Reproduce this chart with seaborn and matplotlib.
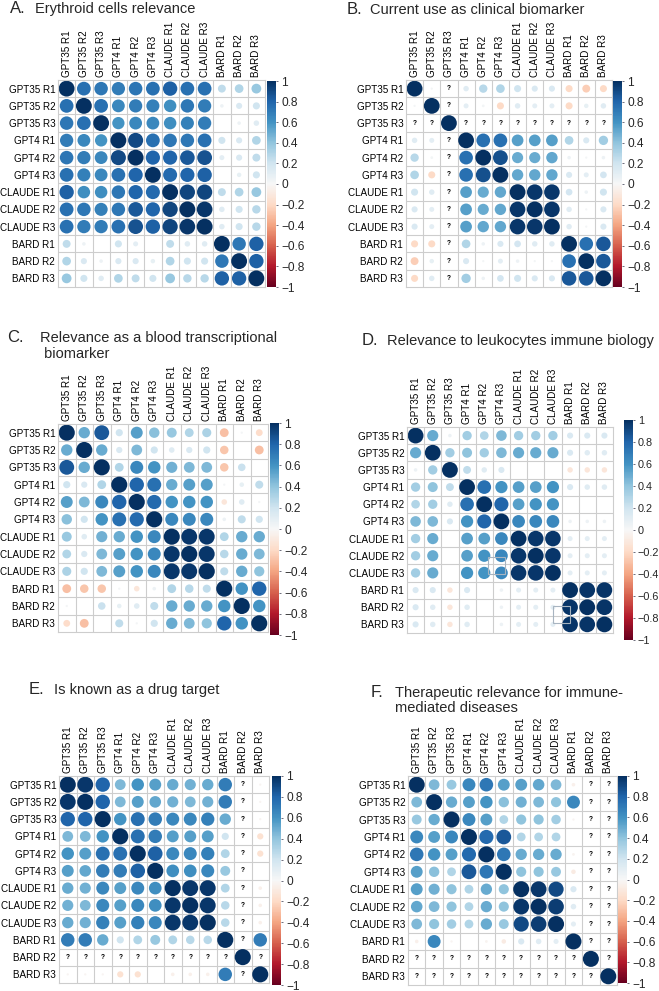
import numpy as np
import pandas as pd
import matplotlib
matplotlib.use('Agg')
import matplotlib.pyplot as plt
from matplotlib.patches import Rectangle
import seaborn as sns

labels = ['GPT35 R1', 'GPT35 R2', 'GPT35 R3', 'GPT4 R1', 'GPT4 R2', 'GPT4 R3',
          'CLAUDE R1', 'CLAUDE R2', 'CLAUDE R3', 'BARD R1', 'BARD R2', 'BARD R3']

# correlation values below the diagonal, row by row (row 2 .. row 12)
# None = correlation not computable, drawn as "?"
erythroid = [
    [0.75],
    [0.72, 0.75],
    [0.70, 0.65, 0.60],
    [0.73, 0.70, 0.65, 0.90],
    [0.75, 0.68, 0.65, 0.75, 0.80],
    [0.82, 0.62, 0.62, 0.72, 0.80, 0.78],
    [0.75, 0.72, 0.68, 0.72, 0.85, 0.80, 0.92],
    [0.75, 0.70, 0.70, 0.75, 0.87, 0.82, 0.92, 0.97],
    [0.25, 0.05, 0.00, 0.20, 0.10, 0.00, 0.25, 0.12, 0.12],
    [0.30, 0.15, 0.05, 0.15, 0.15, 0.08, 0.30, 0.20, 0.20, 0.72],
    [0.38, 0.20, 0.12, 0.30, 0.25, 0.20, 0.38, 0.28, 0.28, 0.82, 0.82],
]

clinical = [
    [0.02],
    [None, None],
    [0.12, 0.10, None],
    [0.28, 0.03, None, 0.75],
    [0.30, -0.20, None, 0.75, 0.88],
    [0.20, 0.12, None, 0.55, 0.50, 0.52],
    [0.15, 0.10, None, 0.55, 0.50, 0.52, 0.97],
    [0.15, 0.10, None, 0.55, 0.52, 0.52, 0.97, 0.97],
    [-0.20, -0.20, None, 0.30, 0.05, 0.15, 0.18, 0.12, 0.12],
    [-0.25, 0.08, None, 0.15, 0.02, 0.10, 0.05, 0.02, 0.02, 0.75],
    [-0.20, 0.12, None, 0.35, 0.05, 0.18, 0.20, 0.15, 0.15, 0.85, 0.85],
]

blood = [
    [0.50],
    [0.85, 0.50],
    [0.20, 0.15, 0.30],
    [0.55, 0.45, 0.65, 0.80],
    [0.42, 0.20, 0.60, 0.75, 0.78],
    [0.38, 0.12, 0.48, 0.50, 0.60, 0.65],
    [0.30, 0.15, 0.45, 0.55, 0.60, 0.65, 0.97],
    [0.32, 0.20, 0.45, 0.55, 0.60, 0.65, 0.97, 0.97],
    [-0.30, -0.28, -0.28, 0.02, -0.12, 0.05, 0.30, 0.28, 0.25],
    [0.02, 0.00, 0.22, 0.08, 0.12, 0.25, 0.50, 0.50, 0.50, 0.60],
    [-0.18, -0.30, 0.00, 0.25, 0.02, 0.20, 0.50, 0.45, 0.40, 0.80, 0.60],
]

leukocytes = [
    [0.50],
    [0.05, 0.35],
    [0.35, 0.40, 0.25],
    [0.30, 0.35, 0.12, 0.75],
    [0.45, 0.45, 0.15, 0.60, 0.80],
    [0.35, 0.50, 0.00, 0.55, 0.55, 0.65],
    [0.35, 0.50, 0.00, 0.55, 0.60, 0.65, 0.97],
    [0.35, 0.50, 0.00, 0.60, 0.60, 0.65, 0.97, 0.97],
    [0.15, 0.15, -0.12, 0.15, 0.00, 0.05, 0.10, 0.10, 0.10],
    [0.15, 0.12, -0.12, 0.12, 0.00, 0.05, 0.10, 0.10, 0.10, 0.98],
    [0.15, 0.12, -0.12, 0.12, 0.00, 0.05, 0.10, 0.10, 0.10, 0.98, 0.98],
]

drug_target = [
    [0.97],
    [0.80, 0.80],
    [0.45, 0.45, 0.60],
    [0.60, 0.55, 0.75, 0.75],
    [0.55, 0.52, 0.70, 0.70, 0.82],
    [0.50, 0.48, 0.65, 0.55, 0.65, 0.62],
    [0.48, 0.45, 0.65, 0.55, 0.65, 0.62, 0.97],
    [0.50, 0.48, 0.68, 0.55, 0.68, 0.65, 0.97, 0.97],
    [0.70, 0.70, 0.50, 0.20, 0.30, 0.38, 0.30, 0.28, 0.28],
    [None] * 10,
    [-0.02, -0.02, -0.02, -0.15, -0.15, 0.00, -0.05, -0.05, -0.05, 0.70, None],
]

therapeutic = [
    [0.45],
    [0.38, 0.50],
    [0.65, 0.55, 0.65],
    [0.72, 0.60, 0.55, 0.78],
    [0.55, 0.42, 0.30, 0.85, 0.72],
    [0.55, 0.48, 0.40, 0.30, 0.50, 0.40],
    [0.52, 0.45, 0.40, 0.30, 0.50, 0.40, 0.97],
    [0.45, 0.40, 0.35, 0.30, 0.50, 0.38, 0.90, 0.95],
    [-0.05, 0.65, -0.02, 0.00, -0.03, -0.08, 0.15, 0.12, 0.10],
    [None] * 10,
    [None] * 11,
]

sns.set_theme(style='white')
plt.rcParams['font.family'] = ['Liberation Sans', 'DejaVu Sans']

W, H = 659, 991
fig = plt.figure(figsize=(W / 100, H / 100), dpi=100)
GRID = '#CDCDCD'


def px_rect(l, t, r, b):
    return [l / W, 1 - b / H, (r - l) / W, (b - t) / H]


def full_matrix(lower):
    n = len(labels)
    m = np.eye(n)
    for i, row in enumerate(lower, start=1):
        for j, v in enumerate(row):
            m[i, j] = m[j, i] = np.nan if v is None else v
    return m


def tick_text(t):
    if abs(t) < 1e-9:
        return '0'
    s = ('%g' % abs(t))
    return ('\u2212' + s) if t < 0 else s


def draw_panel(lower, grid_box, cbar_box, cbar_pad=2.2, cbar_fs=8.6):
    mat = full_matrix(lower)
    n = len(labels)
    ax = fig.add_axes(px_rect(*grid_box))
    rows, cols = np.indices(mat.shape)
    df = pd.DataFrame({'col': cols.ravel(), 'row': rows.ravel(), 'r': mat.ravel()})
    df['size'] = df['r'].abs()
    known = df.dropna()
    cell_pt = (grid_box[2] - grid_box[0]) / n * 72 / 100
    sns.scatterplot(data=known, x='col', y='row', hue='r', size='size',
                    palette='RdBu', hue_norm=(-1, 1),
                    sizes=(0, (0.92 * cell_pt) ** 2), size_norm=(0, 1),
                    edgecolor='none', linewidth=0, legend=False, ax=ax)
    # not computable correlations
    for _, rr in df[df['r'].isna()].iterrows():
        ax.text(rr['col'], rr['row'], '?', ha='center', va='center',
                fontsize=4.8, fontweight='bold', color='black')

    for k in range(1, n):
        ax.axhline(k - 0.5, color=GRID, lw=0.8, zorder=0)
        ax.axvline(k - 0.5, color=GRID, lw=0.8, zorder=0)
    ax.set_xlim(-0.5, n - 0.5)
    ax.set_ylim(n - 0.5, -0.5)
    ax.set_xlabel('')
    ax.set_ylabel('')
    ax.set_xticks(range(n))
    ax.set_yticks(range(n))
    ax.set_xticklabels(labels, rotation=90, fontsize=7.1)
    ax.set_yticklabels(labels, fontsize=7.1)
    ax.xaxis.tick_top()
    ax.tick_params(length=0, pad=2, colors='black')
    for sp in ax.spines.values():
        sp.set_color(GRID)
        sp.set_linewidth(0.8)

    cax = fig.add_axes(px_rect(*cbar_box))
    sm = plt.cm.ScalarMappable(norm=plt.Normalize(-1, 1), cmap='RdBu')
    cb = fig.colorbar(sm, cax=cax)
    ticks = np.round(np.arange(-1, 1.01, 0.2), 1)
    cb.set_ticks(ticks)
    cb.set_ticklabels([tick_text(t) for t in ticks])
    cax.tick_params(length=1.6, width=0.6, direction='out', color='#555566',
                    labelsize=cbar_fs, pad=cbar_pad)
    cb.outline.set_visible(False)
    return ax


def title(letter, lx, tx, lines, y0, dy=16):
    fig.text(lx / W, 1 - y0 / H, letter, fontsize=12, va='baseline', ha='left')
    for i, line in enumerate(lines):
        fig.text(tx / W, 1 - (y0 + i * dy) / H, line, fontsize=10.5,
                 va='baseline', ha='left')


draw_panel(erythroid, (58, 80, 265, 287), (267, 81, 276, 287))
title('A.', 10, 35, ['Erythroid cells relevance'], 13)

draw_panel(clinical, (406, 80, 612, 287), (613, 81, 622, 287))
title('B.', 347, 370, ['Current use as clinical biomarker'], 14)

draw_panel(blood, (58, 424, 268, 632), (270, 423, 279, 635))
title('C.', 7, 40, ['Relevance as a blood transcriptional', ' biomarker'], 342)

axD = draw_panel(leukocytes, (407, 427, 613, 633), (624, 420, 633, 640),
                 cbar_pad=1.8, cbar_fs=7.8)
title('D.', 362, 387, ['Relevance to leukocytes immune biology'], 345)
# grey boxes visible in the original panel D
for cx, cy in [(4.7, 7.57), (8.5, 10.43)]:
    axD.add_patch(Rectangle((cx - 0.5, cy - 0.5), 1, 1, fill=False,
                            ec='#A8B4C0', lw=0.8, zorder=5))

draw_panel(drug_target, (59, 776, 269, 983), (272, 776, 281, 985))
title('E.', 29, 54, ['Is known as a drug target'], 694)

draw_panel(therapeutic, (408, 776, 617, 985), (618, 776, 627, 983))
title('F.', 371, 395, ['Therapeutic relevance for immune-', 'mediated diseases'], 697, dy=15)

fig.savefig('out.png', dpi=100)
